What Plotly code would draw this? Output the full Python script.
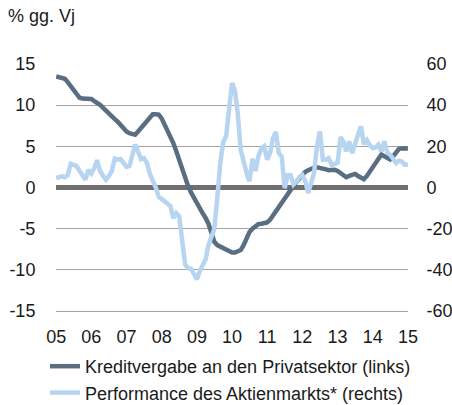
import plotly.graph_objects as go
import pandas as pd

months = [d.strftime("%Y-%m-%d") for d in pd.date_range("2005-01-01", periods=121, freq="MS")]

credit = [
    13.5, 13.4, 13.3, 13.2, 12.8, 12.3, 11.8, 11.3, 10.9, 10.8, 10.8, 10.75,
    10.75, 10.5, 10.3, 10.05, 9.7, 9.3, 8.9, 8.6, 8.3, 8.0, 7.6, 7.1,
    6.8, 6.6, 6.5, 6.4, 6.8, 7.2, 7.6, 8.0, 8.5, 8.9, 8.9, 8.85,
    8.4, 7.7, 7.0, 6.2, 5.4, 4.4, 3.3, 2.2, 1.1, 0.2, -0.6, -1.3,
    -1.9, -2.5, -3.1, -3.7, -4.4, -5.5, -6.6, -7.0, -7.2, -7.4, -7.6, -7.8,
    -7.9, -7.9, -7.8, -7.6, -7.0, -6.0, -5.4, -5.0, -4.7, -4.45, -4.4, -4.3,
    -4.25, -3.9, -3.4, -2.9, -2.4, -1.9, -1.3, -0.8, -0.3, 0.2, 0.7, 1.1,
    1.5, 1.9, 2.1, 2.3, 2.4, 2.45, 2.4, 2.3, 2.2, 2.1, 2.1, 2.15,
    2.0, 1.7, 1.4, 1.25, 1.4, 1.55, 1.65, 1.4, 1.15, 1.0, 1.4, 1.9,
    2.4, 3.0, 3.5, 4.0, 3.8, 3.6, 3.4, 3.8, 4.3, 4.7, 4.75, 4.75,
    4.75,
]

stocks = [
    4.6, 5.0, 5.4, 5.0, 6.0, 11.5, 11.0, 10.5, 8.0, 6.0, 3.8, 8.5,
    6.8, 9.5, 13.3, 8.0, 5.5, 3.8, 5.5, 8.0, 14.0, 13.5, 13.8, 12.0,
    10.0, 10.5, 15.0, 20.8, 17.5, 13.8, 14.3, 12.0, 6.5, 3.8, 0.0, -4.4,
    -5.5, -7.0, -7.6, -9.0, -14.9, -12.5, -14.0, -25.0, -37.5, -39.2, -39.5, -42.0,
    -44.6, -40.5, -37.5, -35.0, -28.0, -23.0, -20.0, -5.0, 12.0, 22.0, 25.0, 38.0,
    50.8, 47.0, 36.0, 18.3, 12.5, 7.0, 3.0, 14.0, 8.0, 15.0, 19.0, 20.0,
    13.5, 17.0, 24.0, 27.0, 16.7, 15.0, -0.3, 6.0, 6.0, 1.5, 3.0, 5.0,
    6.0, 3.0, -2.7, 2.0, 7.0, 20.0, 27.3, 13.5, 13.5, 14.3, 11.0, 11.5,
    12.0, 24.5, 22.4, 17.5, 22.4, 16.7, 22.0, 25.6, 29.7, 21.0, 23.0, 20.5,
    19.2, 19.5, 20.8, 17.5, 22.4, 17.0, 15.9, 14.3, 11.9, 13.0, 12.5, 11.0,
    11.0,
]

year_ticks = ["%d-01-01" % y for y in range(2005, 2016)]
year_labels = ["05", "06", "07", "08", "09", "10", "11", "12", "13", "14", "15"]
left_ticks = [-15, -10, -5, 0, 5, 10, 15]
left_labels = ["-15", "-10", "-5", "0", "5", "10", "15"]
right_ticks = [-60, -40, -20, 0, 20, 40, 60]
right_labels = ["-60", "-40", "-20", "0", "20", "40", "60"]

FONT = "Liberation Sans, Arial, sans-serif"
DARK = "#5a6e81"
LIGHT = "#b7d4f0"
TEXT = "#1a1a1a"
GRID = "#a3a3a3"
FS = 18

W, H = 452, 405

fig = go.Figure()
fig.add_trace(go.Scatter(
    x=months, y=credit, mode="lines", name="Kreditvergabe an den Privatsektor (links)",
    line=dict(color=DARK, width=4.5), yaxis="y",
))
fig.add_trace(go.Scatter(
    x=months, y=stocks, mode="lines", name="Performance des Aktienmarkts* (rechts)",
    line=dict(color=LIGHT, width=4.5), yaxis="y2",
))

fig.update_layout(
    width=W, height=H,
    margin=dict(l=56, r=44, t=64, b=94, autoexpand=False),
    paper_bgcolor="white", plot_bgcolor="white",
    font=dict(family=FONT, size=FS, color=TEXT),
    title=dict(text="% gg. Vj", x=8 / W, xanchor="left", xref="container",
               y=1 - 16 / H, yanchor="middle", yref="container",
               font=dict(family=FONT, size=FS, color=TEXT)),
    xaxis=dict(
        type="date",
        range=["2004-12-30", "2015-01-02"],
        tickmode="array", tickvals=year_ticks, ticktext=year_labels,
        showgrid=False, zeroline=False,
        showline=True, linecolor=GRID, linewidth=1,
        ticks="outside", ticklen=9, tickcolor="rgba(0,0,0,0)",
    ),
    yaxis=dict(
        range=[-15, 15], tickmode="array", tickvals=left_ticks, ticktext=left_labels,
        showgrid=True, gridcolor=GRID, gridwidth=1,
        zeroline=True, zerolinecolor="#6f6f6f", zerolinewidth=5,
        ticks="outside", ticklen=16, tickcolor="rgba(0,0,0,0)",
        showline=False,
    ),
    yaxis2=dict(
        range=[-60, 60], tickmode="array", tickvals=right_ticks, ticktext=right_labels,
        overlaying="y", side="right",
        showgrid=False, zeroline=False, showline=False,
        ticks="outside", ticklen=14, tickcolor="rgba(0,0,0,0)",
    ),
    showlegend=True,
    legend=dict(
        orientation="v", xref="container", yref="container",
        x=45 / W, xanchor="left", y=1 - 348 / H, yanchor="top",
        font=dict(family=FONT, size=FS, color=TEXT),
        bgcolor="rgba(0,0,0,0)", tracegroupgap=0,
    ),
)

fig.write_html(
    "out.html",
    config={"displayModeBar": False},
    post_script="document.body.style.margin='0';document.body.style.overflow='hidden';",
)
